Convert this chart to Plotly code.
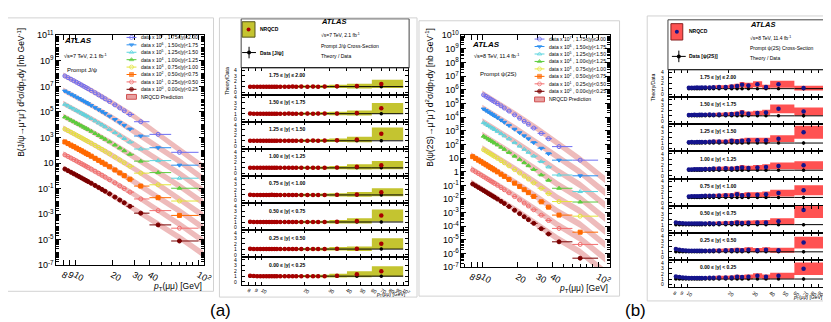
import plotly.graph_objects as go

W, H = 831, 322
FONT = "Liberation Sans, Arial, Helvetica, sans-serif"

# ---------------------------------------------------------------- data
# Prompt J/psi, 7 TeV: pT bins and cross-sections (nb/GeV, unscaled)
jpsi_edges = [8, 8.5, 9, 9.5, 10, 10.5, 11, 11.5, 12, 12.5, 13, 14, 15, 16, 17, 18,
              20, 22, 24, 26, 30, 40, 60, 100]
jpsi_pt = [8.25, 8.75, 9.25, 9.75, 10.25, 10.75, 11.25, 11.75, 12.25, 12.75, 13.5, 14.5,
           15.5, 16.5, 17.5, 19, 21, 23, 25, 27.8, 34, 47, 70]
jpsi_y000 = [3.40, 2.53, 1.91, 1.46, 1.13, 0.877, 0.690, 0.551, 0.439, 0.354, 0.261, 0.176,
             0.122, 0.0864, 0.0619, 0.0388, 0.0218, 0.0128, 0.00779, 0.00411, 0.00120, 1.45e-4, 8.0e-6]
jpsi_y025 = [4.40, 3.27, 2.47, 1.89, 1.46, 1.14, 0.893, 0.713, 0.568, 0.458, 0.337, 0.228,
             0.158, 0.112, 0.0801, 0.0502, 0.0282, 0.0165, 0.0101, 0.00532, 0.00155, 1.90e-4, 8.0e-6]
jpsi_y050 = [4.50, 3.35, 2.52, 1.93, 1.49, 1.16, 0.914, 0.729, 0.582, 0.470, 0.345, 0.234,
             0.162, 0.114, 0.0819, 0.0513, 0.0288, 0.0169, 0.0103, 0.00545, 0.00158, 1.95e-4, 8.0e-6]
jpsi_y075 = [4.60, 3.42, 2.58, 1.97, 1.52, 1.19, 0.934, 0.745, 0.595, 0.480, 0.353, 0.239,
             0.165, 0.117, 0.0837, 0.0524, 0.0294, 0.0173, 0.0105, 0.00557, 0.00162, 2.00e-4, 1.07e-5]
jpsi_y100 = [4.00, 2.98, 2.24, 1.72, 1.32, 1.03, 0.812, 0.646, 0.518, 0.418, 0.307, 0.208,
             0.144, 0.102, 0.0728, 0.0456, 0.0256, 0.0150, 0.00916, 0.00484, 0.00141, 1.79e-4, 1.07e-5]
jpsi_y125 = [3.95, 2.94, 2.22, 1.69, 1.31, 1.02, 0.800, 0.636, 0.508, 0.409, 0.299, 0.201,
             0.138, 0.0971, 0.0692, 0.0430, 0.0239, 0.0139, 0.00840, 0.00440, 0.00125, 1.55e-4, 6.5e-6]
jpsi_y150 = [4.30, 3.19, 2.40, 1.83, 1.41, 1.10, 0.862, 0.684, 0.545, 0.438, 0.320, 0.215,
             0.148, 0.104, 0.0740, 0.0458, 0.0254, 0.0147, 0.00885, 0.00460, 0.00130, 1.58e-4, 6.8e-6]
jpsi_y175 = [6.50, 4.82, 3.62, 2.75, 2.11, 1.64, 1.28, 1.01, 0.805, 0.646, 0.470, 0.314,
             0.215, 0.150, 0.106, 0.0650, 0.0358, 0.0206, 0.0123, 0.00630, 0.00171, 1.75e-4, 6.9e-6]

# NRQCD prediction for J/psi (central, unscaled) and relative band width
jpsi_nrqcd_pt = [8, 10, 14, 20, 30, 45, 70, 110]
jpsi_nrqcd_y000 = [3.96, 1.28, 0.214, 0.0294, 0.00272, 2.2e-4, 1.50e-5, 7.0e-7]
jpsi_nrqcd_y025 = [5.13, 1.65, 0.277, 0.0381, 0.00352, 2.6e-4, 1.60e-5, 7.4e-7]
jpsi_nrqcd_y050 = [5.25, 1.69, 0.283, 0.0390, 0.00360, 2.7e-4, 1.75e-5, 8.0e-7]
jpsi_nrqcd_y075 = [5.36, 1.73, 0.289, 0.0398, 0.00368, 2.8e-4, 1.60e-5, 7.4e-7]
jpsi_nrqcd_y100 = [4.66, 1.50, 0.252, 0.0346, 0.00320, 2.5e-4, 1.60e-5, 7.4e-7]
jpsi_nrqcd_y125 = [4.61, 1.48, 0.246, 0.0334, 0.00303, 2.3e-4, 1.50e-5, 6.5e-7]
jpsi_nrqcd_y150 = [5.01, 1.61, 0.266, 0.0358, 0.00320, 2.3e-4, 1.40e-5, 5.5e-7]
jpsi_nrqcd_y175 = [7.58, 2.43, 0.398, 0.0526, 0.00450, 2.4e-4, 1.05e-5, 4.5e-7]
nrqcd_band_unc = [0.6, 0.6, 0.6, 0.65, 0.7, 0.75, 0.8, 0.85]

# Theory / Data for J/psi per pT bin, and theory band relative width, data errors
jpsi_ratio_y000 = [1.08, 1.02, 1.0, 1.0, 1.0, 1.0, 1.0, 1.0, 1.0, 1.0, 1.0, 1.0, 1.0, 1.0, 1.0,
                   1.0, 1.0, 1.0, 1.0, 1.0, 1.1, 1.35, 1.9]
jpsi_ratio_y025 = [1.08, 1.02, 1.0, 1.0, 1.0, 1.0, 1.0, 1.0, 1.0, 1.0, 1.0, 1.0, 1.0, 1.0, 1.0,
                   1.0, 1.0, 1.0, 1.0, 1.0, 1.05, 1.05, 2.0]
jpsi_ratio_y050 = [1.05, 1.02, 1.0, 1.0, 1.0, 1.0, 1.0, 1.0, 1.0, 1.0, 1.0, 1.0, 1.0, 1.0, 1.0,
                   1.0, 1.0, 1.0, 1.0, 1.0, 1.05, 1.2, 2.2]
jpsi_ratio_y075 = [1.05, 1.0, 1.0, 1.0, 1.0, 1.0, 1.0, 1.02, 1.0, 1.0, 1.0, 1.0, 1.0, 1.0, 1.0,
                   1.0, 1.0, 1.0, 1.0, 1.0, 1.02, 1.1, 1.5]
jpsi_ratio_y100 = [1.02, 1.0, 1.0, 1.0, 1.0, 1.0, 1.0, 1.0, 1.0, 1.0, 1.0, 1.0, 1.0, 1.0, 1.0,
                   1.02, 1.0, 1.0, 1.02, 1.0, 1.05, 1.2, 1.5]
jpsi_ratio_y125 = [1.0, 1.0, 1.0, 1.02, 1.0, 1.0, 1.0, 1.0, 1.0, 1.0, 1.0, 1.02, 1.0, 1.0, 1.02,
                   1.0, 1.0, 1.05, 1.02, 1.05, 1.08, 1.25, 2.3]
jpsi_ratio_y150 = [1.02, 1.0, 1.0, 1.0, 1.0, 1.0, 0.98, 1.0, 1.0, 1.0, 1.0, 1.0, 1.02, 1.0, 1.0,
                   1.0, 1.02, 1.0, 1.02, 1.05, 1.05, 1.15, 2.0]
jpsi_ratio_y175 = [1.0, 1.0, 0.98, 0.98, 1.0, 0.98, 1.0, 1.0, 0.98, 1.0, 1.0, 1.0, 1.0, 1.02, 1.0,
                   1.02, 1.0, 1.02, 1.0, 1.02, 1.05, 1.1, 1.5]
jpsi_ratio_unc = [0.2] * 15 + [0.22, 0.22, 0.24, 0.24, 0.25, 0.3, 0.4, 0.5]
jpsi_data_err = [0.03] * 15 + [0.04, 0.04, 0.05, 0.05, 0.06, 0.07, 0.1, 0.25]

# Prompt psi(2S), 8 TeV
psi_edges = [8, 8.5, 9, 9.5, 10, 10.5, 11, 11.5, 12, 12.5, 13, 14, 15, 16, 18, 20, 22, 24,
             26, 30, 35, 40, 60, 100]
psi_pt = [8.25, 8.75, 9.25, 9.75, 10.25, 10.75, 11.25, 11.75, 12.25, 12.75, 13.5, 14.5, 15.5,
          17, 19, 21, 23, 25, 27.8, 32.3, 37.3, 46, 70]
psi_y000 = [0.125, 0.0932, 0.0703, 0.0539, 0.0417, 0.0326, 0.0257, 0.0205, 0.0165, 0.0134, 0.00987,
            0.00671, 0.00466, 0.00280, 0.00150, 0.000847, 0.000501, 0.000307, 0.000164, 6.65e-5,
            2.74e-5, 7.3e-6, 4.6e-7]
psi_y025 = [0.130, 0.0968, 0.0730, 0.0559, 0.0432, 0.0337, 0.0265, 0.0211, 0.0170, 0.0137, 0.0101,
            0.00684, 0.00474, 0.00284, 0.00151, 0.000851, 0.000501, 0.000306, 0.000162, 6.5e-5,
            2.66e-5, 7.0e-6, 4.7e-7]
psi_y050 = [0.126, 0.0935, 0.0705, 0.0539, 0.0416, 0.0324, 0.0255, 0.0203, 0.0163, 0.0132, 0.00968,
            0.00656, 0.00454, 0.00272, 0.00145, 0.000815, 0.000480, 0.000293, 0.000155, 6.2e-5,
            2.53e-5, 6.6e-6, 3.7e-7]
psi_y075 = [None, None, None, None, 0.0410, 0.0320, 0.0252, 0.0200, 0.0161, 0.0130, 0.00955,
            0.00647, 0.00448, 0.00268, 0.00143, 0.000804, 0.000473, 0.000288, 0.000152, 6.1e-5,
            2.48e-5, 6.5e-6, 5.5e-7]
psi_y100 = [None, None, None, None, 0.0400, 0.0312, 0.0246, 0.0195, 0.0157, 0.0126, 0.00928,
            0.00628, 0.00434, 0.00259, 0.00138, 0.000773, 0.000454, 0.000276, 0.000146, 5.8e-5,
            2.36e-5, 6.1e-6, 6.0e-7]
psi_y125 = [None, None, None, None, 0.0395, 0.0308, 0.0242, 0.0192, 0.0154, 0.0124, 0.00910,
            0.00614, 0.00424, 0.00252, 0.00134, 0.000748, 0.000438, 0.000265, 0.000140, 5.5e-5,
            2.22e-5, 5.7e-6, 3.5e-7]
psi_y150 = [None, None, None, None, 0.0390, 0.0304, 0.0239, 0.0190, 0.0152, 0.0122, 0.00895,
            0.00603, 0.00415, 0.00246, 0.00130, 0.000725, 0.000423, 0.000255, 0.000134, 5.2e-5,
            2.08e-5, 7.0e-6, 5.0e-7]
psi_y175 = [None, None, None, None, 0.0425, 0.0331, 0.0261, 0.0208, 0.0166, 0.0134, 0.00985,
            0.00667, 0.00461, 0.00276, 0.00147, 0.000825, 0.000487, 0.000297, 0.000158, 6.4e-5,
            2.62e-5, 6.9e-6, 7.0e-7]

psi_nrqcd_pt = [8, 10, 14, 20, 30, 45, 70, 115]
psi_nrqcd_y000 = [0.168, 0.0540, 0.00944, 0.00138, 1.34e-4, 1.19e-5, 1.33e-6, 4.4e-8]
psi_nrqcd_y025 = [0.174, 0.0562, 0.00982, 0.00143, 1.39e-4, 1.23e-5, 1.27e-6, 4.2e-8]
psi_nrqcd_y050 = [0.168, 0.0540, 0.00944, 0.00138, 1.34e-4, 1.19e-5, 1.37e-6, 4.5e-8]
psi_nrqcd_y075 = [None, 0.0531, 0.00929, 0.00135, 1.32e-4, 1.17e-5, 1.27e-6, 4.2e-8]
psi_nrqcd_y100 = [None, 0.0518, 0.00906, 0.00132, 1.28e-4, 1.14e-5, 1.14e-6, 3.8e-8]
psi_nrqcd_y125 = [None, 0.0510, 0.00891, 0.00130, 1.26e-4, 1.12e-5, 1.05e-6, 3.5e-8]
psi_nrqcd_y150 = [None, 0.0505, 0.00883, 0.00129, 1.25e-4, 1.11e-5, 9.0e-7, 3.0e-8]
psi_nrqcd_y175 = [None, 0.0549, 0.00959, 0.00140, 1.36e-4, 1.21e-5, 7.7e-7, 2.6e-8]

N4 = [None] * 4
psi_ratio_y000 = [1.45, 1.35, 1.3, 1.25, 1.2, 1.2, 1.2, 1.2, 1.2, 1.2, 1.2, 1.25, 1.25, 1.3, 1.3,
                  1.3, 1.4, 1.35, 1.4, 1.6, 1.4, 1.6, 2.9]
psi_ratio_y025 = [1.5, 1.4, 1.3, 1.25, 1.2, 1.2, 1.2, 1.2, 1.2, 1.2, 1.2, 1.2, 1.25, 1.25, 1.3,
                  1.3, 1.35, 1.3, 1.4, 1.3, 1.4, 1.3, 2.7]
psi_ratio_y050 = [1.4, 1.3, 1.25, 1.2, 1.2, 1.2, 1.2, 1.2, 1.2, 1.2, 1.2, 1.25, 1.2, 1.25, 1.3,
                  1.3, 1.4, 1.3, 1.35, 1.4, 1.4, 1.6, 3.7]
psi_ratio_y075 = N4 + [1.15, 1.2, 1.2, 1.2, 1.2, 1.25, 1.3, 1.3, 1.3, 1.35, 1.4, 1.4, 1.6, 1.4,
                       1.5, 1.5, 1.6, 1.8, 2.3]
psi_ratio_y100 = N4 + [1.15, 1.15, 1.2, 1.2, 1.2, 1.2, 1.25, 1.25, 1.3, 1.3, 1.35, 1.3, 1.4, 1.5,
                       1.4, 1.5, 1.6, 1.8, 1.9]
psi_ratio_y125 = N4 + [1.15, 1.2, 1.15, 1.2, 1.2, 1.2, 1.2, 1.25, 1.3, 1.3, 1.3, 1.4, 1.35, 1.4,
                       1.5, 1.5, 1.5, 1.8, 3.0]
psi_ratio_y150 = N4 + [1.15, 1.15, 1.2, 1.15, 1.2, 1.2, 1.2, 1.25, 1.2, 1.25, 1.3, 1.35, 1.4, 1.6,
                       1.4, 1.5, 1.6, 2.3, 1.8]
psi_ratio_y175 = N4 + [1.15, 1.15, 1.15, 1.2, 1.15, 1.2, 1.2, 1.2, 1.25, 1.3, 1.3, 1.4, 1.5, 1.7,
                       1.6, 1.8, 1.3, 1.8, 1.1]
psi_ratio_unc = [0.2] * 10 + [0.2, 0.22, 0.22, 0.25, 0.25, 0.27, 0.28, 0.3, 0.3, 0.3, 0.32, 0.35, 0.4]
psi_data_err = [0.05] * 10 + [0.05, 0.06, 0.06, 0.07, 0.08, 0.09, 0.1, 0.1, 0.12, 0.12, 0.14, 0.18, 0.3]

# series labels (index 0 = most central)
scale_exp = [0, 1, 2, 3, 4, 5, 6, 7]
rap_legend = ["0.00≤|y|<0.25", "0.25≤|y|<0.50", "0.50≤|y|<0.75", "0.75≤|y|<1.00",
              "1.00≤|y|<1.25", "1.25≤|y|<1.50", "1.50≤|y|<1.75", "1.75≤|y|≤2.00"]
rap_panel = ["0.00 ≤ |y| < 0.25", "0.25 ≤ |y| < 0.50", "0.50 ≤ |y| < 0.75", "0.75 ≤ |y| < 1.00",
             "1.00 ≤ |y| < 1.25", "1.25 ≤ |y| < 1.50", "1.50 ≤ |y| < 1.75", "1.75 ≤ |y| ≤ 2.00"]
ratio_ticks = [0, 1, 2, 3, 4]

jpsi_xsec = [jpsi_y000, jpsi_y025, jpsi_y050, jpsi_y075, jpsi_y100, jpsi_y125, jpsi_y150, jpsi_y175]
jpsi_nrqcd = [jpsi_nrqcd_y000, jpsi_nrqcd_y025, jpsi_nrqcd_y050, jpsi_nrqcd_y075,
              jpsi_nrqcd_y100, jpsi_nrqcd_y125, jpsi_nrqcd_y150, jpsi_nrqcd_y175]
jpsi_ratio = [jpsi_ratio_y000, jpsi_ratio_y025, jpsi_ratio_y050, jpsi_ratio_y075,
              jpsi_ratio_y100, jpsi_ratio_y125, jpsi_ratio_y150, jpsi_ratio_y175]
psi_xsec = [psi_y000, psi_y025, psi_y050, psi_y075, psi_y100, psi_y125, psi_y150, psi_y175]
psi_nrqcd = [psi_nrqcd_y000, psi_nrqcd_y025, psi_nrqcd_y050, psi_nrqcd_y075,
             psi_nrqcd_y100, psi_nrqcd_y125, psi_nrqcd_y150, psi_nrqcd_y175]
psi_ratio = [psi_ratio_y000, psi_ratio_y025, psi_ratio_y050, psi_ratio_y075,
             psi_ratio_y100, psi_ratio_y125, psi_ratio_y150, psi_ratio_y175]

# ---------------------------------------------------------------- styles
colors = ['#7a0000', '#f26d6d', '#ff6a00', '#e4e43a', '#5ccc3c', '#5ad4de', '#2b8ff0', '#6e6ef2']
symbols = ['circle', 'circle-open', 'square', 'circle-open', 'triangle-up',
           'triangle-up-open', 'triangle-down', 'circle-open']
BAND = 'rgba(222,120,120,0.5)'
JBOX = 'rgb(196,196,48)'
PBOX = 'rgb(255,82,82)'

fig = go.Figure()
layout = {}
anns = []
shapes = []


def P(x):
    return x / W


def Q(y):
    return 1 - y / H


def ann(x, y, text, size, xanchor='left', yanchor='middle', angle=0):
    anns.append(dict(x=P(x), y=Q(y), xref='paper', yref='paper', text=text, showarrow=False,
                     xanchor=xanchor, yanchor=yanchor, textangle=angle,
                     font=dict(size=size, family=FONT, color='black')))


def rect(x0, y0, x1, y1, line='#d2d2d2', fill=None, width=1):
    d = dict(type='rect', xref='paper', yref='paper', x0=P(x0), x1=P(x1), y0=Q(y1), y1=Q(y0),
             line=dict(color=line, width=width), layer='above')
    if fill:
        d['fillcolor'] = fill
        d['layer'] = 'below'
    shapes.append(d)


def sup(d):
    if d == 0:
        return '1'
    if d == 1:
        return '10'
    return '10<sup>%d</sup>' % d


def xerr(pts, edges, vals):
    xs, ep, em, idx = [], [], [], []
    for i, v in enumerate(vals):
        if v is None:
            continue
        xs.append(pts[i]); ep.append(edges[i + 1] - pts[i]); em.append(pts[i] - edges[i]); idx.append(i)
    return xs, ep, em, idx


def main_panel(ax, xdom, ydom, xr, yr, ylabels_every, pts, edges, xsec, ngrid, nrqcd):
    xa, ya = 'x' + ax, 'y' + ax
    key = ax
    decs = list(range(yr[0], yr[1] + 1))
    shown = [d for d in decs if (d % ylabels_every) == (1 % ylabels_every)]
    hidden = [d for d in decs if d not in shown]
    layout['xaxis' + key] = dict(
        domain=xdom, type='log', range=xr, anchor=ya, showline=True, linecolor='black',
        linewidth=1, mirror='allticks', ticks='inside', ticklen=5, tickcolor='black',
        tickmode='array', tickvals=[8, 9, 10, 20, 30, 40, 100],
        ticktext=['8', '9', '10', '20', '30', '40', '10<sup>2</sup>'],
        tickfont=dict(size=9, family=FONT, color='black'), showgrid=False, zeroline=False,
        minor=dict(tickvals=[7, 50, 60, 70, 80, 90], ticks='inside', ticklen=3, tickcolor='black'))
    layout['yaxis' + key] = dict(
        domain=ydom, type='log', range=list(yr), anchor=xa, showline=True, linecolor='black',
        linewidth=1, mirror='allticks', ticks='inside', ticklen=5, tickcolor='black',
        tickmode='array', tickvals=[10.0 ** d for d in shown], ticktext=[sup(d) for d in shown],
        tickfont=dict(size=9, family=FONT, color='black'), showgrid=False, zeroline=False,
        minor=dict(tickvals=[10.0 ** d for d in hidden] +
                   [m * 10.0 ** d for d in decs[:-1] for m in range(2, 10)],
                   ticks='inside', ticklen=2.5, tickcolor='black'))
    # NRQCD bands
    for k in range(8):
        s = 10.0 ** scale_exp[k]
        gx, hi, lo = [], [], []
        for i, c in enumerate(nrqcd[k]):
            if c is None:
                continue
            gx.append(ngrid[i]); hi.append(c * s * (1 + nrqcd_band_unc[i])); lo.append(c * s / (1 + nrqcd_band_unc[i]))
        fig.add_trace(go.Scatter(x=gx + gx[::-1], y=hi + lo[::-1], fill='toself', fillcolor=BAND,
                                 mode='lines', line=dict(width=0), xaxis=xa, yaxis=ya,
                                 hoverinfo='skip', showlegend=False))
    # data
    for k in range(8):
        s = 10.0 ** scale_exp[k]
        xs, ep, em, idx = xerr(pts, edges, xsec[k])
        ys = [xsec[k][i] * s for i in idx]
        fig.add_trace(go.Scatter(
            x=xs, y=ys, mode='markers', xaxis=xa, yaxis=ya, showlegend=False,
            marker=dict(symbol=symbols[k], size=4, color=colors[k], line=dict(color=colors[k], width=1)),
            error_x=dict(type='data', symmetric=False, array=ep, arrayminus=em, color=colors[k],
                         thickness=1, width=0)))


def ratio_panel(first, xdom, top, step, xr, pts, edges, ratio, unc, derr, boxcol, dotcol, labx, ylabx):
    for j in range(8):
        k = 7 - j
        n = first + j
        xa, ya = 'x%d' % n, 'y%d' % n
        y0, y1 = top + j * step, top + (j + 1) * step
        layout['xaxis%d' % n] = dict(
            domain=xdom, type='log', range=xr, anchor=ya, showline=True, linecolor='black',
            linewidth=1, mirror='allticks', ticks='inside', ticklen=3, tickcolor='black',
            tickmode='array', tickvals=[8, 9, 10, 20, 30, 40, 50, 60, 70, 80, 90, 100],
            ticktext=['8', '9', '10', '20', '30', '40', '50', '60', '70', '80', '90', '10<sup>2</sup>'],
            showticklabels=(j == 7), tickfont=dict(size=5, family=FONT, color='black'),
            showgrid=False, zeroline=False)
        layout['yaxis%d' % n] = dict(
            domain=[Q(y1), Q(y0)], range=[-0.55, 4.45], anchor=xa, showline=True, linecolor='black',
            linewidth=1, mirror='allticks', ticks='inside', ticklen=3, tickcolor='black',
            tickmode='array', tickvals=ratio_ticks, showticklabels=False,
            showgrid=False, zeroline=False)
        # y tick labels of the small ratio frames, placed next to each tick value
        for t in ratio_ticks:
            ypix = y1 - (t + 0.55) / 5.0 * step
            ann(ylabx, ypix, str(t), 5, xanchor='right')
        bx, by = [], []
        for i, r in enumerate(ratio[k]):
            if r is None:
                continue
            a, b = edges[i], edges[i + 1]
            lo, hi = r * (1 - unc[i]), r * (1 + unc[i])
            bx += [a, b, b, a, a, None]
            by += [lo, lo, hi, hi, lo, None]
        fig.add_trace(go.Scatter(x=bx, y=by, fill='toself', fillcolor=boxcol, mode='lines',
                                 line=dict(width=0), xaxis=xa, yaxis=ya, hoverinfo='skip',
                                 showlegend=False))
        xs, ep, em, idx = xerr(pts, edges, ratio[k])
        fig.add_trace(go.Scatter(
            x=xs, y=[1] * len(xs), mode='markers', xaxis=xa, yaxis=ya, showlegend=False,
            marker=dict(size=3.5, color='black'),
            error_x=dict(type='data', symmetric=False, array=ep, arrayminus=em, color='black',
                         thickness=1, width=0),
            error_y=dict(type='data', array=[derr[i] for i in idx], color='black', thickness=1, width=0)))
        fig.add_trace(go.Scatter(
            x=xs, y=[ratio[k][i] for i in idx], mode='markers', xaxis=xa, yaxis=ya,
            showlegend=False, marker=dict(size=4.5, color=dotcol)))
        ann(labx, y0 + 7.5, '<b>' + rap_panel[k] + '</b>', 5)


# ---------------------------------------------------------------- panels
main_panel('', [P(49), P(198)], [Q(260), Q(21)], [0.848, 2.041], (-7, 11), 2,
           jpsi_pt, jpsi_edges, jpsi_xsec, jpsi_nrqcd_pt, jpsi_nrqcd)
main_panel('2', [P(459), P(609)], [Q(262), Q(21)], [0.82, 2.10], (-7, 10), 1,
           psi_pt, psi_edges, psi_xsec, psi_nrqcd_pt, psi_nrqcd)
ratio_panel(3, [P(237), P(405)], 55, 28.125, [0.860, 2.035], jpsi_pt, jpsi_edges, jpsi_ratio,
            jpsi_ratio_unc, jpsi_data_err, JBOX, '#a80000', 262, 234)
ratio_panel(11, [P(669), 1.0], 57, 28.25, [0.866, 2.03], psi_pt, psi_edges, psi_ratio,
            psi_ratio_unc, psi_data_err, PBOX, '#14148c', 698, 666)

# overlay axis in pixel units for legend symbols
layout['xaxis19'] = dict(domain=[0, 1], range=[0, W], anchor='y19', visible=False, fixedrange=True)
layout['yaxis19'] = dict(domain=[0, 1], range=[H, 0], anchor='x19', visible=False, fixedrange=True)


def leg_symbol(x, y, k):
    fig.add_trace(go.Scatter(x=[x - 5, x, x + 5], y=[y, y, y], mode='lines+markers',
                             xaxis='x19', yaxis='y19', showlegend=False, hoverinfo='skip',
                             line=dict(color=colors[k], width=1),
                             marker=dict(symbol=symbols[k], size=[0, 4, 0], color=colors[k],
                                         line=dict(color=colors[k], width=1))))


# panel 1 legend and text
for i in range(8):
    k = 7 - i
    yy = 23.3 + 7.7 * i
    leg_symbol(125, yy, k)
    ann(133, yy, 'data x 10<sup>%d</sup> , %s' % (scale_exp[k], rap_legend[k]), 5)
rect(120, 82.5, 130, 87.5, line='#d05050', fill='rgba(222,120,120,0.7)')
ann(133, 85, 'NRQCD Prediction', 5)
ann(55, 27, '<b><i>ATLAS</i></b>', 8)
ann(55, 43, '√s=7 TeV, 2.1 fb<sup>-1</sup>', 5.5)
ann(58, 57, 'Prompt J/ψ', 6)
ann(13, 80, 'B(J/ψ→μ<sup>+</sup>μ<sup>-</sup>) d<sup>2</sup>σ/dp<sub>T</sub>dy [nb GeV<sup>-1</sup>]', 8.5,
    xanchor='center', angle=-90)
ann(198, 282, '<i>p</i><sub>T</sub>(μμ) [GeV]', 8.5, xanchor='right')

# panel 3 legend and text
for i in range(8):
    k = 7 - i
    yy = 25 + 7.75 * i
    leg_symbol(538, yy, k)
    ann(546, yy, 'data x 10<sup>%d</sup> , %s' % (scale_exp[k], rap_legend[k]), 5)
rect(533, 85.2, 543, 90.2, line='#d05050', fill='rgba(222,120,120,0.7)')
ann(546, 87.7, 'NRQCD Prediction', 5)
ann(468, 31, '<b><i>ATLAS</i></b>', 8)
ann(470, 43, '√s=8 TeV, 11.4 fb<sup>-1</sup>', 5.5)
ann(476, 61, 'Prompt ψ(2S)', 6)
ann(427, 85, 'B(ψ(2S)→μ<sup>+</sup>μ<sup>-</sup>) d<sup>2</sup>σ/dp<sub>T</sub>dy [nb GeV<sup>-1</sup>]', 8.5,
    xanchor='center', angle=-90)
ann(609, 284, '<i>p</i><sub>T</sub>(μμ) [GeV]', 8.5, xanchor='right')

# panel 2 header (legend)
rect(236, 4, 406, 55, line='#444444')
rect(237, 7, 250, 23, line='#55551a', fill=JBOX)
fig.add_trace(go.Scatter(x=[243.5], y=[15], mode='markers', xaxis='x19', yaxis='y19',
                         marker=dict(size=4, color='#a80000'), showlegend=False, hoverinfo='skip'))
fig.add_trace(go.Scatter(x=[237, 251, None, 244, 244], y=[39, 39, None, 33, 45], mode='lines',
                         xaxis='x19', yaxis='y19', line=dict(color='black', width=1),
                         showlegend=False, hoverinfo='skip'))
fig.add_trace(go.Scatter(x=[244], y=[39], mode='markers', xaxis='x19', yaxis='y19',
                         marker=dict(size=4, color='black'), showlegend=False, hoverinfo='skip'))
ann(253, 15, '<b>NRQCD</b>', 5)
ann(253, 39, '<b>Data [J/ψ]</b>', 5)
ann(315, 7, '<b><i>ATLAS</i></b>', 7.5)
ann(315, 21, '√s=7 TeV, 2.1 fb<sup>-1</sup>', 5)
ann(315, 32, 'Prompt J/ψ Cross-Section', 5)
ann(315, 43, 'Theory / Data', 5)
ann(222, 68, 'Theory/Data', 5, xanchor='center', angle=-90)
ann(405, 290, '<i>p</i><sub>T</sub>(μμ) [GeV]', 5, xanchor='right')

# panel 4 header (legend)
rect(668, 5, 840, 57, line='#444444')
rect(671, 9, 683, 26, line='#882222', fill=PBOX)
fig.add_trace(go.Scatter(x=[677], y=[17.5], mode='markers', xaxis='x19', yaxis='y19',
                         marker=dict(size=4, color='#14148c'), showlegend=False, hoverinfo='skip'))
fig.add_trace(go.Scatter(x=[672, 686, None, 679, 679], y=[43, 43, None, 37, 49], mode='lines',
                         xaxis='x19', yaxis='y19', line=dict(color='black', width=1),
                         showlegend=False, hoverinfo='skip'))
fig.add_trace(go.Scatter(x=[679], y=[43], mode='markers', xaxis='x19', yaxis='y19',
                         marker=dict(size=4, color='black'), showlegend=False, hoverinfo='skip'))
ann(687, 17, '<b>NRQCD</b>', 5)
ann(687, 43, '<b>Data [ψ(2S)]</b>', 5)
ann(749, 10, '<b><i>ATLAS</i></b>', 7.5)
ann(749, 24, '√s=8 TeV, 11.4 fb<sup>-1</sup>', 5)
ann(749, 34, 'Prompt ψ(2S) Cross-Section', 5)
ann(749, 45, 'Theory / Data', 5)
ann(653, 75, 'Theory/Data', 5, xanchor='center', angle=-90)
ann(827, 293, '<i>p</i><sub>T</sub>(μμ) [GeV]', 5, xanchor='right')

# outer light frames
rect(-2, 3, 208, 287)
rect(214, 3, 414, 293)
rect(416, 6, 619, 292)
rect(647, 1, 840, 297)

# sub-figure labels
ann(215, 307, '(a)', 17, xanchor='center')
ann(635, 307, '(b)', 17, xanchor='center')

fig.update_layout(
    width=W, height=H, autosize=False, margin=dict(l=0, r=0, t=0, b=0),
    paper_bgcolor='white', plot_bgcolor='rgba(0,0,0,0)', showlegend=False,
    annotations=anns, shapes=shapes, **layout)

fig.write_html("out.html")
